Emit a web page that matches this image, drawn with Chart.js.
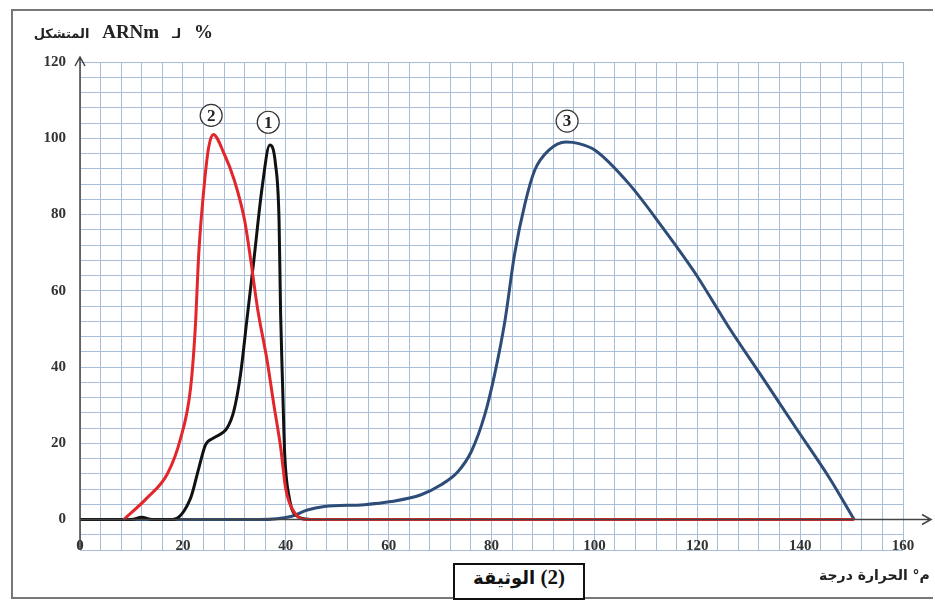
<!DOCTYPE html>
<html>
<head>
<meta charset="utf-8">
<script src="https://cdn.jsdelivr.net/npm/chart.js@4.4.1/dist/chart.umd.min.js"></script>
<style>
  body { margin: 0; background: #fff; }
  #wrap { position: relative; width: 935px; height: 604px; overflow: hidden; }
  #frame { position: absolute; left: 11px; top: 9px; width: 920px; height: 586px; border: 2px solid #777; border-right: none; }
  #title { position: absolute; left: 20px; top: 21px; width: 193px; direction: rtl; text-align: right; word-spacing: 8px;
           font: bold 19px "Liberation Serif", "DejaVu Serif", serif; color: #222; }
  #title .ar { font: bold 13px "DejaVu Sans", sans-serif; }
  #xtitle { position: absolute; left: 819px; top: 567px; white-space: nowrap; direction: ltr; font: bold 14px "DejaVu Sans", sans-serif; color: #222; }
  #xtitle span, #doc span { display: inline-block; }
  #doc { position: absolute; left: 453px; top: 563px; width: 128px; height: 33px; border: 2px solid #111; background: #fff;
         text-align: center; line-height: 33px; direction: ltr; font: bold 21px "Liberation Serif", "DejaVu Serif", serif; color: #111; }
  #doc .ar { font: bold 18px "DejaVu Sans", sans-serif; }
  canvas { position: absolute; left: 0; top: 0; }
</style>
</head>
<body>
<div id="wrap">
  <div id="frame"></div>
  <canvas id="chart1" width="935" height="604"></canvas>
  <div id="title">% <span class="ar">لـ</span> ARNm <span class="ar">المتشكل</span></div>
  <div id="xtitle"><span>درجة</span> <span>الحرارة</span> <span>°م</span></div>
  <div id="doc"><span class="ar">الوثيقة</span> <span>(2)</span></div>
</div>
<script>
// valorile
let x1 = [0, 10, 12, 14, 18, 21.5, 23.1, 24.4, 26, 28.6, 29.9, 31.2, 32.5, 33.8, 35.4, 36.9, 38, 38.7, 39, 39.4, 39.8, 40.7, 42.3, 45];
let y1 = [0, 0, 0.6, 0, 0, 5.6, 13.5, 19.6, 21.4, 24, 28.4, 38, 53, 68, 87, 98.2, 93.3, 78.4, 54, 34.6, 17, 5.6, 0.8, 0];
let x2 = [8.5, 13, 17, 19.5, 21.5, 22.4, 23.1, 24.1, 25, 25.9, 28, 30, 32, 33.2, 34.5, 36.4, 37.7, 39, 40, 41.6, 44, 150.5];
let y2 = [0, 5.6, 12, 21, 34.5, 50, 70, 87, 97.5, 101, 96, 89, 78.5, 68, 55.5, 41.5, 30, 19, 8, 2, 0, 0];
let x3 = [0, 35, 41, 44.2, 47.5, 55.3, 60.5, 66.3, 70.2, 73.5, 76.1, 78.7, 80.6, 82.6, 84.5, 86.5, 88.4, 91.1, 94.5, 97, 100.2, 106.7, 113.2, 119.7, 126.2, 132.7, 139.2, 145.7, 150.5];
let y3 = [0, 0, 0.8, 2.5, 3.4, 3.9, 4.7, 6.5, 9.1, 12.6, 17.9, 27.5, 38, 52, 69.7, 82.8, 91.6, 96.8, 99, 98.6, 96.8, 88.1, 76.7, 64.4, 50.3, 37.2, 24, 10.9, 0];
let xLabels = [0, 20, 40, 60, 80, 100, 120, 140, 160];
let markX = [36.6, 25.5, 94.7];
let markY = [104.2, 106, 104.5];
let markText = ["1", "2", "3"];

function pts(xs, ys) {
  return xs.map((x, i) => ({ x: x, y: ys[i] }));
}

// axe, etichete x si cercurile cu numere
const extras = {
  id: "extras",
  afterDatasetsDraw(chart) {
    const ctx = chart.ctx;
    const xs = chart.scales.x;
    const ys = chart.scales.y;
    const a = chart.chartArea;
    const y0 = ys.getPixelForValue(0);
    ctx.save();
    ctx.strokeStyle = "#444";
    ctx.lineWidth = 1.5;
    // axa y cu sageata
    ctx.beginPath();
    ctx.moveTo(a.left, a.bottom);
    ctx.lineTo(a.left, a.top - 5);
    ctx.moveTo(a.left - 5, a.top + 4);
    ctx.lineTo(a.left, a.top - 5);
    ctx.lineTo(a.left + 5, a.top + 4);
    ctx.stroke();
    // axa x cu sageata
    ctx.beginPath();
    ctx.moveTo(a.left, y0);
    ctx.lineTo(a.right + 28, y0);
    ctx.moveTo(a.right + 19, y0 - 5);
    ctx.lineTo(a.right + 28, y0);
    ctx.lineTo(a.right + 19, y0 + 5);
    ctx.stroke();
    // etichete x
    ctx.fillStyle = "#333";
    ctx.font = "bold 15px 'Liberation Serif', serif";
    ctx.textAlign = "center";
    ctx.textBaseline = "middle";
    xLabels.forEach(v => ctx.fillText(String(v), xs.getPixelForValue(v), y0 + 27));
    // cercuri
    ctx.lineWidth = 1.2;
    ctx.strokeStyle = "#333";
    ctx.font = "bold 17px 'Liberation Serif', serif";
    for (let i = 0; i < markX.length; i++) {
      const px = xs.getPixelForValue(markX[i]);
      const py = ys.getPixelForValue(markY[i]);
      ctx.fillStyle = "#fff";
      ctx.beginPath();
      ctx.arc(px, py, 11, 0, Math.PI * 2);
      ctx.fill();
      ctx.stroke();
      ctx.fillStyle = "#222";
      ctx.fillText(markText[i], px, py + 1);
    }
    ctx.restore();
  }
};

new Chart(document.getElementById("chart1"), {
  type: "line",
  data: {
    datasets: [
      { label: "2", data: pts(x2, y2), borderColor: "#e3262b", borderWidth: 3, order: 0 },
      { label: "1", data: pts(x1, y1), borderColor: "#111111", borderWidth: 3, order: 1 },
      { label: "3", data: pts(x3, y3), borderColor: "#2d4c78", borderWidth: 3, order: 2 },
    ],
  },
  options: {
    responsive: false,
    animation: false,
    layout: { padding: { left: 0, top: 62, right: 32, bottom: 54 } },
    elements: {
      point: { radius: 0 },
      line: { cubicInterpolationMode: "monotone", fill: false },
    },
    plugins: { legend: { display: false }, tooltip: { enabled: false } },
    scales: {
      x: {
        type: "linear",
        min: 0,
        max: 160,
        ticks: { display: false, stepSize: 4, maxTicksLimit: 100 },
        grid: { color: "#a9bdd6", lineWidth: 1, drawTicks: false },
        border: { display: false },
        afterFit: s => { s.height = 0; },
      },
      y: {
        min: -8,
        max: 120,
        ticks: {
          stepSize: 4,
          maxTicksLimit: 100,
          autoSkip: false,
          padding: 14,
          color: "#333",
          font: { family: "Liberation Serif", size: 15, weight: "bold" },
          callback: v => (v >= 0 && v % 20 === 0 ? v : ""),
        },
        grid: { color: "#a9bdd6", lineWidth: 1, drawTicks: false },
        border: { display: false },
        afterFit: s => { s.width = 80; },
      },
    },
  },
  plugins: [extras],
});
</script>
</body>
</html>
